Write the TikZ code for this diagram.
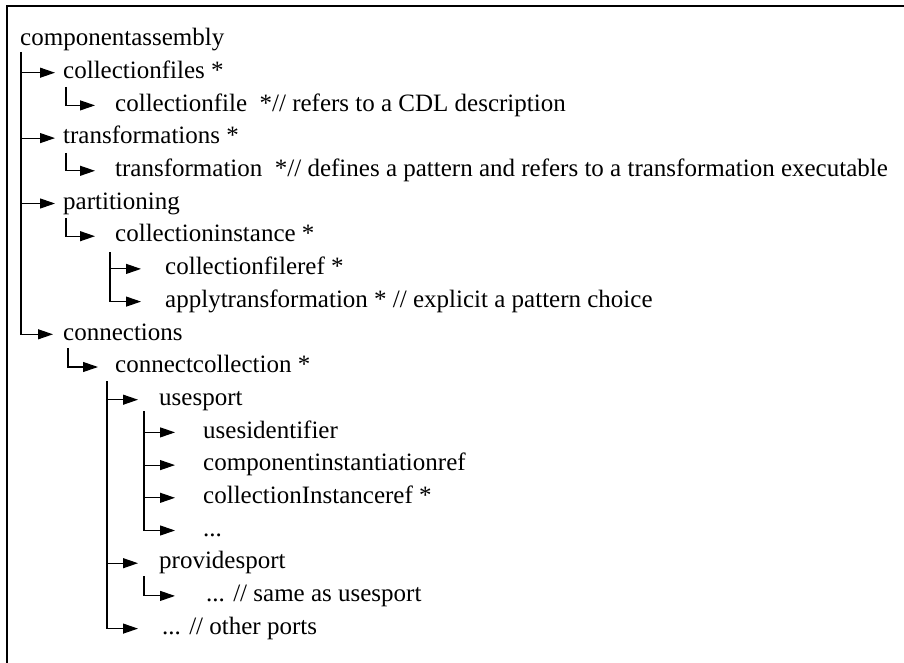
\documentclass[tikz,border=0pt]{standalone}
\usepackage{fontspec}
\setmainfont{Liberation Serif}
\usetikzlibrary{arrows.meta}
\begin{document}
\begin{tikzpicture}[x=1pt,y=-1pt,
  lbl/.style={anchor=mid west,inner sep=0pt},
  arr/.style={line width=1.1pt,-{Triangle[length=15pt,width=10pt]}},
  trunk/.style={line width=1.1pt}]
\fontsize{25}{30}\selectfont
\useasboundingbox (0,0) rectangle (904,663);
\draw[line width=1.2pt] (7,663) -- (7,6) -- (904,6);

\node[lbl] (n1) at (20,40) {componentassembly};
\node[lbl] (n2) at (63,72.7) {collectionfiles *};
\node[lbl] (n3) at (115,105.4) {collectionfile\ \ *// refers to a CDL description};
\node[lbl] (n4) at (63,138.1) {transformations *};
\node[lbl] (n5) at (115,170.8) {transformation\ \ *// defines a pattern and refers to a transformation executable};
\node[lbl] (n6) at (63,203.5) {partitioning};
\node[lbl] (n7) at (115,236.2) {collectioninstance *};
\node[lbl] (n8) at (165,268.9) {collectionfileref *};
\node[lbl] (n9) at (165,301.6) {applytransformation * // explicit a pattern choice};
\node[lbl] (n10) at (63,334.3) {connections};
\node[lbl] (n11) at (115,367) {connectcollection *};
\node[lbl] (n12) at (159,399.7) {usesport};
\node[lbl] (n13) at (203,432.4) {usesidentifier};
\node[lbl] (n14) at (203,465.1) {componentinstantiationref};
\node[lbl] (n15) at (203,497.8) {collectionInstanceref *};
\node[lbl] (n16) at (203,530.5) {...};
\node[lbl] (n17) at (159,563.2) {providesport};
\node[lbl] (n18) at (206,595.9) {... // same as usesport};
\node[lbl] (n19) at (162,628.6) {... // other ports};

% level 0 trunk
\coordinate (t0) at (21,52);
\draw[arr] (t0) |- ([xshift=-10pt]n10.mid west);
\draw[arr] (t0 |- n2.mid west) -- ([xshift=-8pt]n2.mid west);
\draw[arr] (t0 |- n4.mid west) -- ([xshift=-8pt]n4.mid west);
\draw[arr] (t0 |- n6.mid west) -- ([xshift=-8pt]n6.mid west);

% level 1 elbows
\coordinate (t1a) at (66,87);
\draw[arr] (t1a) |- ([xshift=-20pt]n3.mid west);
\coordinate (t1b) at (66,153);
\draw[arr] (t1b) |- ([xshift=-20pt]n5.mid west);
\coordinate (t1c) at (66,218);
\draw[arr] (t1c) |- ([xshift=-20pt]n7.mid west);
\coordinate (t1d) at (68,348);
\draw[arr] (t1d) |- ([xshift=-17pt]n11.mid west);

% collectioninstance children
\coordinate (t2) at (110,252);
\draw[arr] (t2) |- ([xshift=-24pt]n9.mid west);
\draw[arr] (t2 |- n8.mid west) -- ([xshift=-24pt]n8.mid west);

% connectcollection children
\coordinate (t2b) at (107,381);
\draw[arr] (t2b) |- ([xshift=-24pt]n19.mid west);
\draw[arr] (t2b |- n12.mid west) -- ([xshift=-21pt]n12.mid west);
\draw[arr] (t2b |- n17.mid west) -- ([xshift=-21pt]n17.mid west);

% usesport children
\coordinate (t3) at (144,411);
\draw[arr] (t3) |- ([xshift=-28pt]n16.mid west);
\draw[arr] (t3 |- n13.mid west) -- ([xshift=-28pt]n13.mid west);
\draw[arr] (t3 |- n14.mid west) -- ([xshift=-28pt]n14.mid west);
\draw[arr] (t3 |- n15.mid west) -- ([xshift=-28pt]n15.mid west);

% providesport child
\coordinate (t3b) at (144,576);
\draw[arr] (t3b) |- ([xshift=-31pt]n18.mid west);
\end{tikzpicture}
\end{document}
